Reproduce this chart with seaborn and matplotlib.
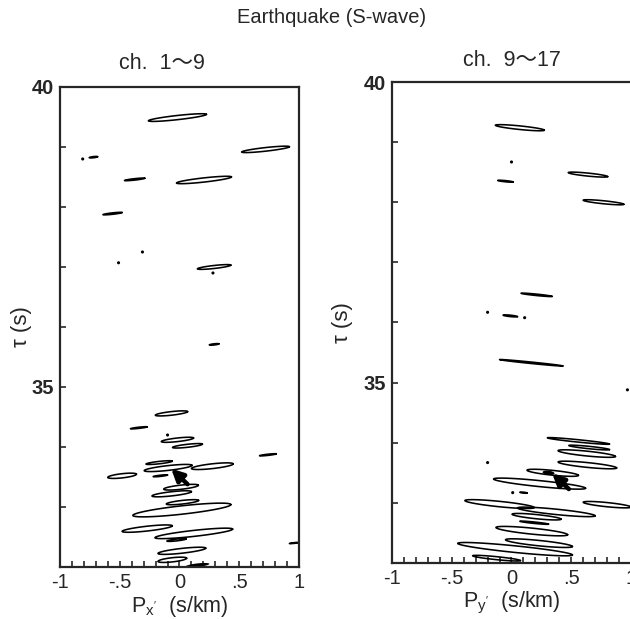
import numpy as np
import pandas as pd
import seaborn as sns
import matplotlib.pyplot as plt

# ch. 1~9 panel: ellipse centre slowness, centre tau, half length, half thickness
left_p = [-0.017, 0.72, -0.72, -0.375, 0.205, -0.56, 0.29, 0.29, -0.067, -0.34,
          -0.017, 0.067, 0.74, -0.17, -0.095, 0.275, -0.48, -0.16, 0.013, -0.065,
          0.025, 0.02, -0.27, 0.12, -0.025, 0.02, -0.06, 0.96]
left_tau = [39.49, 38.96, 38.83, 38.46, 38.45, 37.89, 37.0, 35.71, 34.56, 34.32,
            34.12, 34.02, 33.87, 33.74, 33.65, 33.68, 33.52, 33.52, 33.33, 33.22,
            33.08, 32.95, 32.64, 32.56, 32.45, 32.27, 32.12, 32.40]
left_a = [0.243, 0.20, 0.035, 0.085, 0.23, 0.08, 0.14, 0.04, 0.135, 0.07,
          0.135, 0.125, 0.07, 0.11, 0.2, 0.175, 0.12, 0.06, 0.145, 0.165,
          0.135, 0.41, 0.21, 0.325, 0.08, 0.2, 0.12, 0.04]
left_b = [0.035, 0.03, 0.01, 0.012, 0.035, 0.012, 0.025, 0.01, 0.03, 0.01,
          0.03, 0.025, 0.01, 0.02, 0.04, 0.04, 0.035, 0.01, 0.035, 0.035,
          0.03, 0.07, 0.04, 0.05, 0.015, 0.04, 0.035, 0.006]
left_blob = [(0.15, 32.03, 0.1, 0.03)]
left_dots_p = [-0.81, -0.31, -0.51, 0.28, -0.1]
left_dots_tau = [38.8, 37.25, 37.07, 36.9, 34.2]
left_arrow = ((0.067, 33.38), (-0.07, 33.64))

# ch. 9~17 panel
right_p = [0.07, -0.05, 0.64, 0.77, 0.21, -0.01, 0.165, 0.56, 0.65, 0.63,
           0.635, 0.345, 0.235, 0.1, -0.1, 0.8, 0.375, 0.21, 0.19, 0.17,
           0.23, 0.03, -0.125]
right_tau = [39.24, 38.35, 38.46, 38.0, 36.46, 36.11, 35.33, 34.03, 33.92, 33.82,
             33.63, 33.5, 33.32, 33.17, 32.98, 32.97, 32.85, 32.77, 32.67, 32.53,
             32.33, 32.23, 32.08]
right_a = [0.205, 0.065, 0.165, 0.17, 0.13, 0.06, 0.265, 0.26, 0.17, 0.24,
           0.245, 0.215, 0.385, 0.03, 0.29, 0.2, 0.325, 0.205, 0.12, 0.3,
           0.28, 0.48, 0.2]
right_b = [0.03, 0.01, 0.025, 0.025, 0.012, 0.012, 0.012, 0.02, 0.02, 0.04,
           0.04, 0.04, 0.05, 0.008, 0.045, 0.035, 0.045, 0.035, 0.012, 0.05,
           0.045, 0.055, 0.025]
right_blob = [(0.31, 33.5, 0.05, 0.035)]
right_dots_p = [0.0, -0.2, 0.11, 0.97, -0.2, 0.01]
right_dots_tau = [38.67, 36.17, 36.08, 34.88, 33.67, 33.17]
right_arrow = ((0.48, 33.23), (0.34, 33.49))

slope_left = 0.22
slope_right = -0.2


def outline(pc, tc, a, b, k, n=120):
    t = np.linspace(0, 2 * np.pi, n)
    return pc + a * np.cos(t), tc + k * a * np.cos(t) + b * np.sin(t)


def ellipse_table(ps, taus, aa, bb, k):
    rows = []
    for i, (pc, tc, a, b) in enumerate(zip(ps, taus, aa, bb)):
        x, y = outline(pc, tc, a, b, k)
        rows.append(pd.DataFrame({"id": i, "p": x, "tau": y}))
    return pd.concat(rows, ignore_index=True)


sns.set_style("ticks")
plt.rcParams["font.family"] = ["Liberation Sans", "Noto Sans CJK JP"]
plt.rcParams["mathtext.fontset"] = "custom"
plt.rcParams["mathtext.rm"] = "Liberation Sans"
plt.rcParams["mathtext.it"] = "Liberation Sans"
plt.rcParams["axes.linewidth"] = 1.6

fig = plt.figure(figsize=(6.3, 6.19), dpi=100)
ax1 = fig.add_axes([0.0952, 0.0840, 0.3794, 0.7755])
ax2 = fig.add_axes([0.6222, 0.0905, 0.3794, 0.7770])

panels = [
    (ax1, left_p, left_tau, left_a, left_b, slope_left, left_blob,
     left_dots_p, left_dots_tau, left_arrow, r"P$_{\mathrm{x'}}$  (s/km)", -0.117),
    (ax2, right_p, right_tau, right_a, right_b, slope_right, right_blob,
     right_dots_p, right_dots_tau, right_arrow, r"P$_{\mathrm{y'}}$  (s/km)", -0.163),
]

for ax, ps, taus, aa, bb, k, blobs, dp, dt, arrow, xlab, ylab_x in panels:
    df = ellipse_table(ps, taus, aa, bb, k)
    sns.lineplot(data=df, x="p", y="tau", units="id", estimator=None, sort=False,
                 color="black", lw=1.15, legend=False, ax=ax)
    for pc, tc, a, b in blobs:
        x, y = outline(pc, tc, a, b, k)
        ax.fill(x, y, color="black", lw=0)
    sns.scatterplot(x=dp, y=dt, color="black", s=5, edgecolor="none", ax=ax)
    # arrow marking the picked phase
    ax.annotate("", xy=arrow[1], xytext=arrow[0],
                arrowprops=dict(arrowstyle="-|>,head_length=0.7,head_width=0.35",
                                color="black", lw=3.2, mutation_scale=10,
                                shrinkA=0, shrinkB=0))

    ax.set_xlim(-1, 1)
    ax.set_ylim(32, 40)
    ax.set_xticks([-1, -0.5, 0, 0.5, 1])
    ax.set_xticklabels(["-1", "-.5", "0", ".5", "1"], fontsize=14.5)
    ax.set_xticks(np.arange(-1, 1.01, 0.1), minor=True)
    ax.set_yticks([35, 40])
    ax.set_yticklabels(["35", "40"], fontsize=14.5, fontweight="bold")
    ax.set_yticks(np.arange(32, 41, 1), minor=True)
    ax.tick_params(which="both", direction="in", length=4, width=1.2,
                   top=False, right=False)
    ax.tick_params(axis="x", pad=4)
    ax.tick_params(axis="y", pad=4)
    ax.set_xlabel(xlab, fontsize=15.5, labelpad=2)
    ax.set_ylabel("τ (s)", fontsize=16)
    ax.yaxis.set_label_coords(ylab_x, 0.5)

fig.text(0.527, 0.971, "Earthquake (S-wave)", ha="center", va="center", fontsize=14.5)
fig.text(0.257, 0.897, "ch.  1～9", ha="center", va="center", fontsize=15.5)
fig.text(0.812, 0.903, "ch.  9～17", ha="center", va="center", fontsize=15.5)

fig.savefig("out.png", dpi=100)
